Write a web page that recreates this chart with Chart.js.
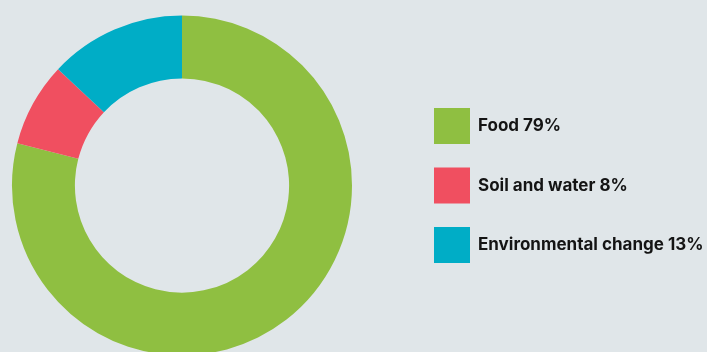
<!DOCTYPE html>
<html>
<head>
<meta charset="utf-8">
<script src="https://cdn.jsdelivr.net/npm/chart.js@4"></script>
<style>
  html, body { margin: 0; padding: 0; background: #e0e6e9; overflow: hidden; }
  #wrap { position: relative; width: 707px; height: 356px; }
</style>
</head>
<body>
<div id="wrap"><canvas id="donut"></canvas></div>
<script>
const categories = ["Food", "Soil and water", "Environmental change"];
const shares = [79, 8, 13];
const colours = ["#8fbf41", "#f04f60", "#00adc6"];

// legend drawn on the right side, one square per slice
const sideLegend = {
  id: "sideLegend",
  afterDraw(chart) {
    const ctx = chart.ctx;
    const ds = chart.data.datasets[0];
    ctx.save();
    ctx.font = "bold 17px Inter";
    ctx.textBaseline = "middle";
    chart.data.labels.forEach((lab, i) => {
      const y = 108 + i * 59.5;
      ctx.fillStyle = ds.backgroundColor[i];
      ctx.fillRect(434, y, 36, 36);
      ctx.fillStyle = "#141414";
      ctx.fillText(lab + " " + ds.data[i] + "%", 478, y + 18);
    });
    ctx.restore();
  }
};

new Chart(document.getElementById("donut"), {
  type: "doughnut",
  data: {
    labels: categories,
    datasets: [{
      data: shares,
      backgroundColor: colours,
      borderWidth: 0,
      hoverOffset: 0
    }]
  },
  options: {
    responsive: true,
    maintainAspectRatio: false,
    animation: false,
    cutout: "63%",
    layout: { padding: { left: 12, right: 355, top: 15, bottom: 0 } },
    plugins: {
      legend: { display: false },
      tooltip: { enabled: false }
    }
  },
  plugins: [sideLegend]
});
</script>
</body>
</html>
